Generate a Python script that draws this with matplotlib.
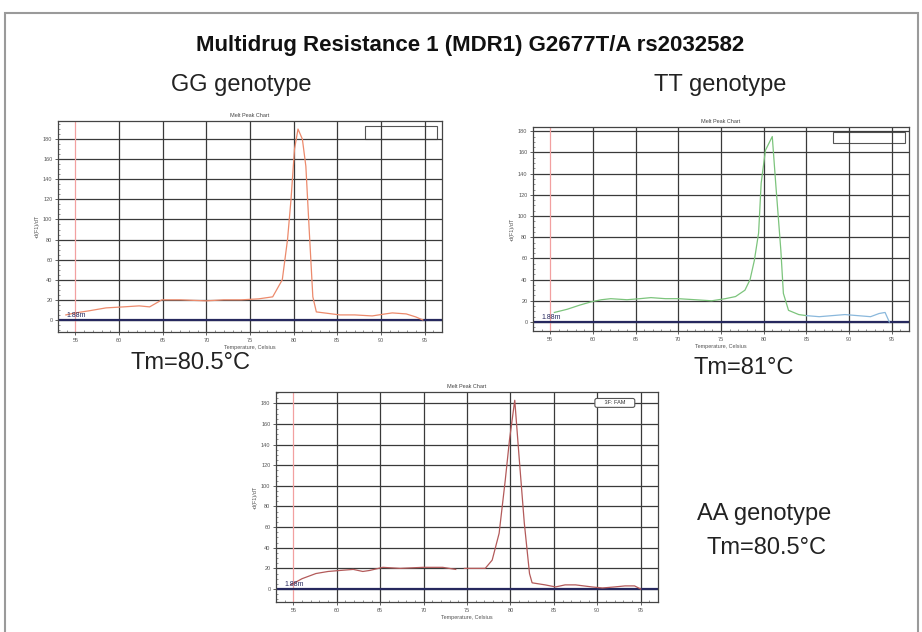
import numpy as np
import matplotlib.pyplot as plt
from matplotlib.patches import Rectangle
from matplotlib.ticker import MultipleLocator

plt.rcParams['font.family'] = ['Liberation Sans', 'DejaVu Sans']

# melt peak traces, temperature (C) vs -d(F1)/dT
gg_temp = [53.9, 55.0, 56.5, 58.5, 60.5, 62.3, 63.5, 64.9, 67.0, 70.0, 72.0, 74.0, 76.0,
           77.6, 78.7, 79.3, 79.7, 80.1, 80.5, 81.0, 81.4, 81.8, 82.2, 82.6, 83.5, 85.3,
           87.0, 89.0, 90.5, 91.3, 92.9, 94.0, 94.8]
gg_value = [5, 7, 9, 12, 13, 14, 13, 20, 20, 19, 20, 20, 21,
            23, 40, 80, 120, 170, 190, 180, 153, 87, 23, 8, 7, 5,
            5, 4, 6, 7, 6, 3, 0]

tt_temp = [55.5, 57.0, 58.5, 59.8, 61.0, 62.1, 64.0, 65.5, 66.8, 68.5, 70.0, 72.0, 73.9,
           75.5, 76.7, 77.8, 78.4, 78.9, 79.4, 79.7, 80.2, 81.0, 81.4, 82.0, 82.3, 82.9,
           84.1, 85.0]
tt_value = [9, 12, 16, 19, 21, 22, 21, 22, 23, 22, 22, 21, 20,
            22, 24, 30, 40, 58, 84, 131, 162, 175, 131, 68, 27, 11,
            7, 6]
tt_tail_temp = [85.0, 86.5, 88.0, 89.5, 91.0, 92.5, 93.5, 94.2, 94.7]
tt_tail_value = [6, 5, 6, 7, 6, 5, 8, 9, 0]

aa_temp = [54.7, 56.0, 57.6, 59.0, 60.4, 61.9, 63.0, 63.8, 65.3, 67.3, 69.9, 72.2, 73.7,
           np.nan,
           74.7, 76.0, 77.1, 77.9, 78.7, 79.4, 79.9, 80.5, 81.0, 81.6, 82.2, 82.5, 84.0,
           85.2, 86.3, 87.5, 89.4, 90.6, 92.0, 93.2, 94.3, 95.0]
aa_value = [4, 10, 15, 17, 18, 19, 17, 18, 21, 20, 21, 21, 19,
            np.nan,
            20, 20, 20, 28, 54, 105, 145, 183, 128, 64, 15, 6, 4,
            2, 4, 4, 2, 1, 2, 3, 3, 0]

x_ticks = [55, 60, 65, 70, 75, 80, 85, 90, 95]
y_ticks = [0, 20, 40, 60, 80, 100, 120, 140, 160, 180]

W, H = 922, 632


def px(x, y):
    return x / W, 1 - y / H


def melt_axes(rect, ylim):
    left, top, right, bottom = rect
    ax = fig.add_axes([left / W, 1 - bottom / H, (right - left) / W, (bottom - top) / H])
    ax.set_xlim(53, 97)
    ax.set_ylim(*ylim)
    ax.set_xticks(x_ticks)
    ax.set_yticks(y_ticks)
    ax.xaxis.set_minor_locator(MultipleLocator(1))
    ax.yaxis.set_minor_locator(MultipleLocator(5))
    ax.tick_params(which='major', labelsize=4, labelcolor='#555555', length=2.5,
                   width=0.6, color='#444444', pad=1.5)
    ax.tick_params(which='minor', direction='in', length=1.5, width=0.5, color='#666666')
    ax.grid(True, which='major', color='#3a3a3a', lw=0.9)
    ax.xaxis.get_gridlines()[0].set_visible(False)
    for s in ax.spines.values():
        s.set_color('#444444')
        s.set_linewidth(0.9)
    ax.axvline(55, color='#f2a0a0', lw=0.9)
    ax.axhline(0, color='#26285e', lw=1.6)
    ax.text(54.0, 0.5, '1.88m', fontsize=5, color='#26285e', va='bottom')
    ax.set_title('Melt Peak Chart', fontsize=4, color='#444444', pad=3)
    ax.set_xlabel('Temperature, Celsius', fontsize=4, color='#555555', labelpad=2)
    ax.set_ylabel('-d(F1)/dT', fontsize=4, color='#555555', labelpad=2)
    return ax


fig = plt.figure(figsize=(W / 100, H / 100), dpi=100)
fig.add_artist(Rectangle((5 / W, -0.01), 913 / W, 1 - 13 / H + 0.01,
                         transform=fig.transFigure, fill=False, ec='#9a9a9a', lw=1.5))

# GG
ax1 = melt_axes((58, 121, 442, 332), (-12, 198))
ax1.plot(gg_temp, gg_value, color='#ec8a6c', lw=0.9)
ax1.add_patch(Rectangle((0.799, 0.915), 0.188, 0.061, transform=ax1.transAxes,
                        fill=False, ec='#555555', lw=0.8))

# TT
ax2 = melt_axes((533, 127, 909, 331), (-8.5, 184))
ax2.plot(tt_temp, tt_value, color='#7cc47c', lw=0.9)
ax2.plot(tt_tail_temp, tt_tail_value, color='#8ab8dc', lw=0.9)
ax2.add_patch(Rectangle((0.798, 0.92), 0.191, 0.055, transform=ax2.transAxes,
                        fill=False, ec='#555555', lw=0.8))

# AA
ax3 = melt_axes((276, 392, 658, 602), (-12.6, 191))
ax3.plot(aa_temp, aa_value, color='#b35a5a', lw=0.9)
ax3.text(0.887, 0.948, '     3F: FAM     ', transform=ax3.transAxes, fontsize=4,
         ha='center', va='center', color='#333333',
         bbox=dict(boxstyle='round,pad=0.35', fc='white', ec='#555555', lw=0.8))

label_style = dict(ha='center', va='center', color='#222222')
fig.text(*px(470, 45), 'Multidrug Resistance 1 (MDR1) G2677T/A rs2032582',
         fontsize=16, fontweight='bold', ha='center', va='center', color='#111111')
fig.text(*px(241, 85), 'GG genotype', fontsize=17, **label_style)
fig.text(*px(720, 85), 'TT genotype', fontsize=17, **label_style)
fig.text(*px(190, 363), 'Tm=80.5°C', fontsize=17, **label_style)
fig.text(*px(744, 368), 'Tm=81°C', fontsize=17, **label_style)
fig.text(*px(764, 514), 'AA genotype', fontsize=17, **label_style)
fig.text(*px(766, 548), 'Tm=80.5°C', fontsize=17, **label_style)

fig.savefig('out.png', dpi=100)
